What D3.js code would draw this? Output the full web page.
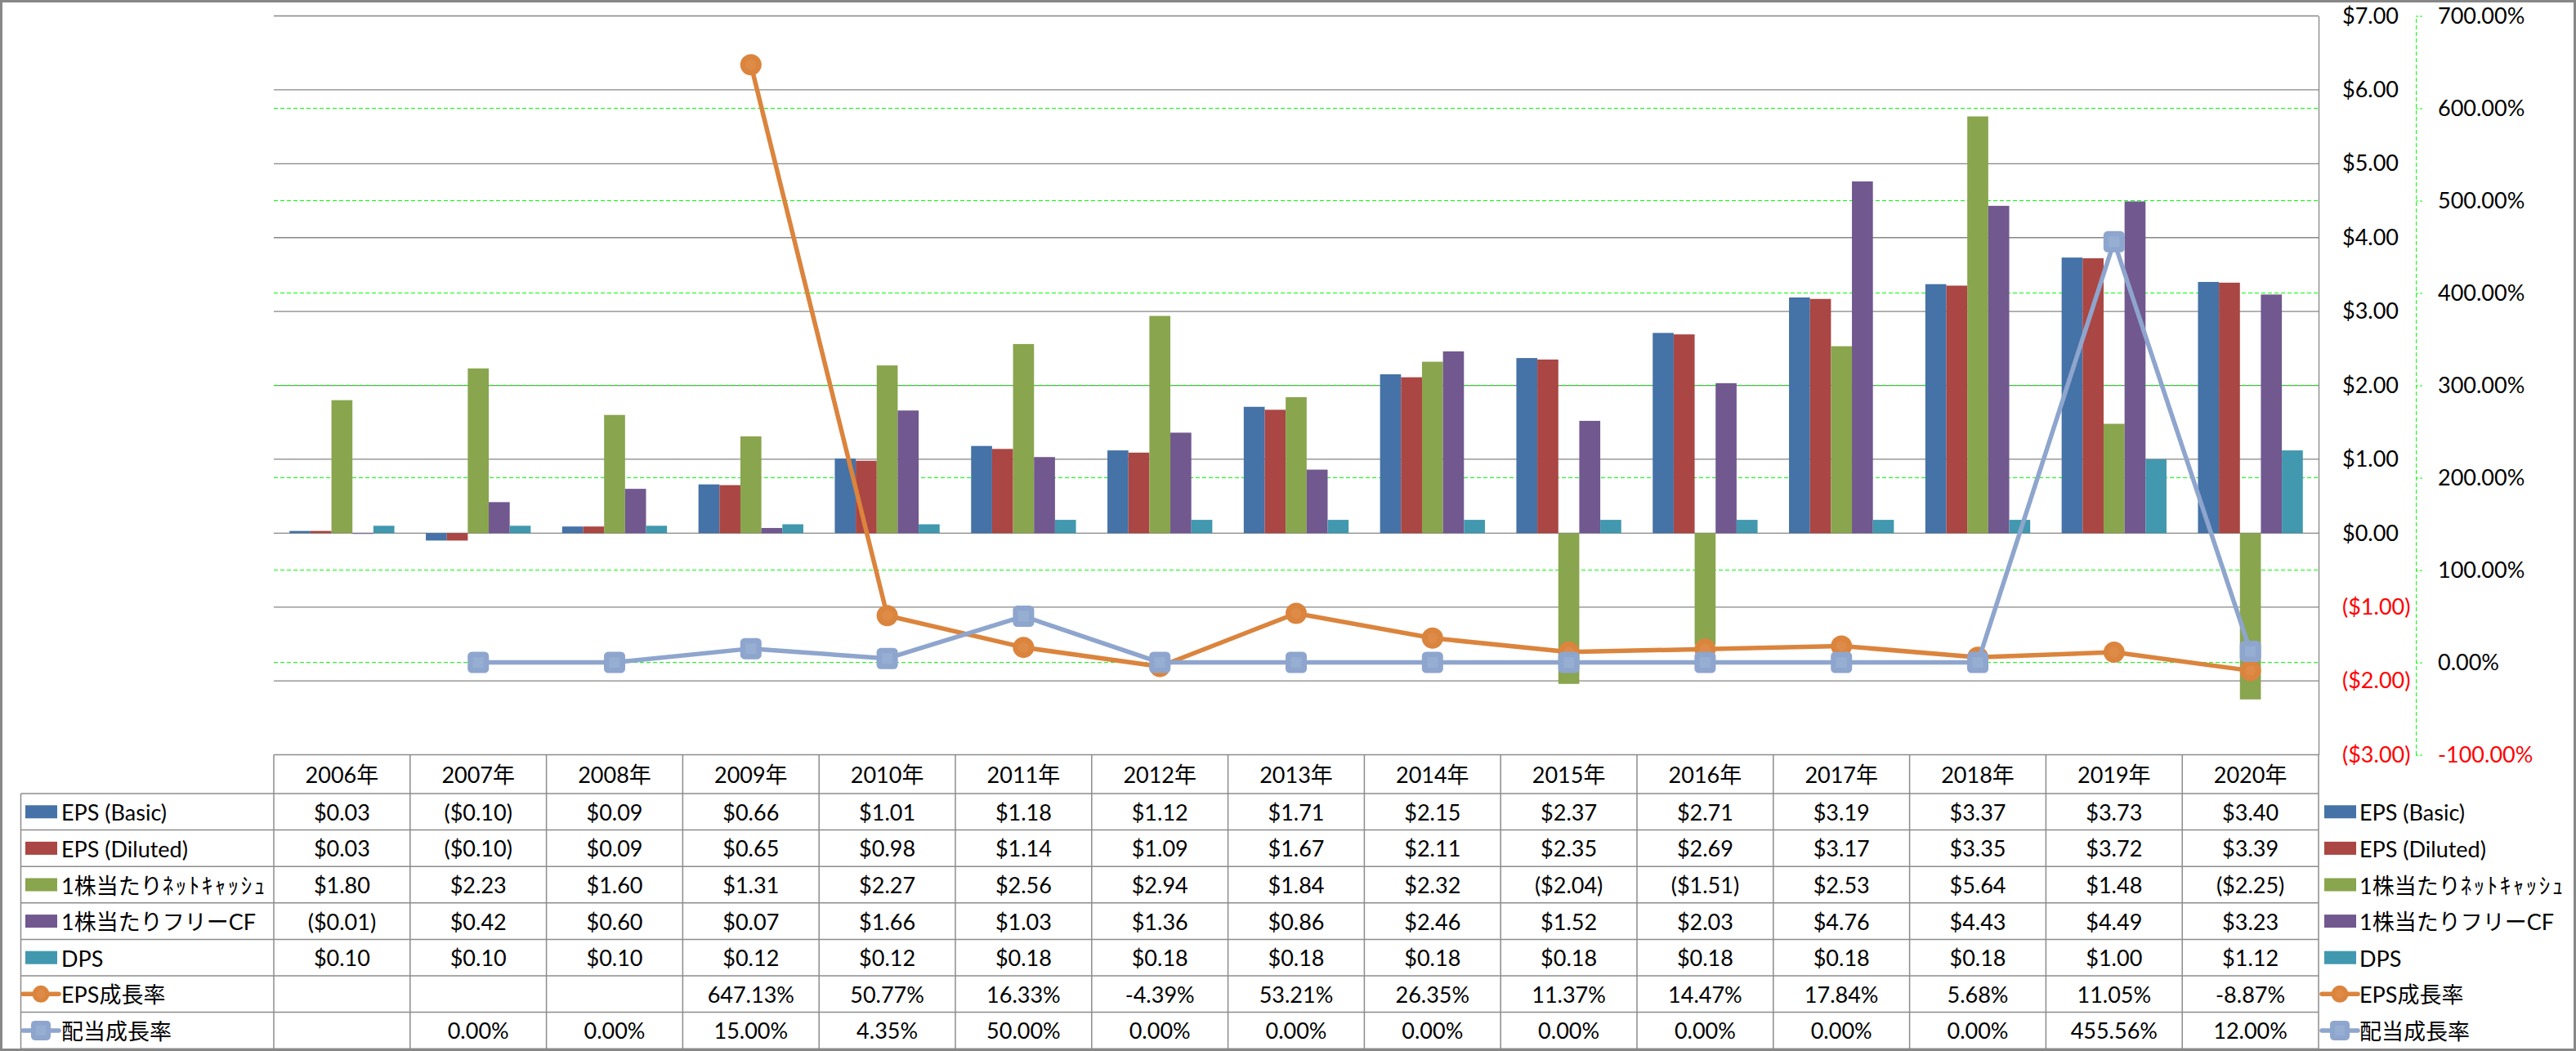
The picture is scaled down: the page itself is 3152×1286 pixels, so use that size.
<!DOCTYPE html>
<html>
<head>
<meta charset="utf-8">
<script src="https://cdn.jsdelivr.net/npm/d3@7"></script>
<style>
  body { margin: 0; background: #fff; }
  text { font-family: Lato, "Noto Sans CJK JP", sans-serif; font-size: 27px; fill: #000; }
</style>
</head>
<body>
<div id="chart"></div>
<script>
'use strict';

// data
const years = ['2006年', '2007年', '2008年', '2009年', '2010年', '2011年', '2012年', '2013年',
               '2014年', '2015年', '2016年', '2017年', '2018年', '2019年', '2020年'];
const epsBasic   = [0.03, -0.10, 0.09, 0.66, 1.01, 1.18, 1.12, 1.71, 2.15, 2.37, 2.71, 3.19, 3.37, 3.73, 3.40];
const epsDiluted = [0.03, -0.10, 0.09, 0.65, 0.98, 1.14, 1.09, 1.67, 2.11, 2.35, 2.69, 3.17, 3.35, 3.72, 3.39];
const netCash    = [1.80, 2.23, 1.60, 1.31, 2.27, 2.56, 2.94, 1.84, 2.32, -2.04, -1.51, 2.53, 5.64, 1.48, -2.25];
const freeCF     = [-0.01, 0.42, 0.60, 0.07, 1.66, 1.03, 1.36, 0.86, 2.46, 1.52, 2.03, 4.76, 4.43, 4.49, 3.23];
const dps        = [0.10, 0.10, 0.10, 0.12, 0.12, 0.18, 0.18, 0.18, 0.18, 0.18, 0.18, 0.18, 0.18, 1.00, 1.12];
const epsGrowth  = [null, null, null, 647.13, 50.77, 16.33, -4.39, 53.21, 26.35, 11.37, 14.47, 17.84, 5.68, 11.05, -8.87];
const divGrowth  = [null, 0.00, 0.00, 15.00, 4.35, 50.00, 0.00, 0.00, 0.00, 0.00, 0.00, 0.00, 0.00, 455.56, 12.00];

const dollarTicks  = [-3, -2, -1, 0, 1, 2, 3, 4, 5, 6, 7];
const percentTicks = [-100, 0, 100, 200, 300, 400, 500, 600, 700];

const barSeries = [
    { name: 'EPS (Basic)', values: epsBasic, color: '#4572A7' },
    { name: 'EPS (Diluted)', values: epsDiluted, color: '#AA4643' },
    { name: '1株当たりﾈｯﾄｷｬｯｼｭ', values: netCash, color: '#89A54E' },
    { name: '1株当たりフリーCF', values: freeCF, color: '#71588F' },
    { name: 'DPS', values: dps, color: '#4198AF' }
];
const lineSeries = [
    { name: 'EPS成長率', values: epsGrowth, color: '#DB843D', inner: '#DE8B47', shape: 'circle' },
    { name: '配当成長率', values: divGrowth, color: '#8EA5CD', inner: '#97AED3', shape: 'square' }
];

const W = 3152, H = 1286;
const plotL = 335, plotR = 2837, plotT = 19.5, plotB = 923.6;
const rowTop = 971, rowH = 44.6;

// plain hyphen for negatives, like the sheet
const locale = d3.formatLocale({ decimal: '.', thousands: ',', grouping: [3], currency: ['$', ''], minus: '-' });
const fmt2 = locale.format('.2f');
function fmtDollar(v) {
    if (v == null) return '';
    return v < 0 ? '($' + fmt2(-v) + ')' : '$' + fmt2(v);
}
function fmtPct(v) {
    if (v == null) return '';
    return fmt2(v) + '%';
}

const svg = d3.select('#chart').append('svg')
    .attr('width', W)
    .attr('height', H);

svg.append('rect')
    .attr('x', 1.5).attr('y', 1.5)
    .attr('width', W - 3).attr('height', H - 3)
    .attr('fill', '#fff')
    .attr('stroke', '#878787')
    .attr('stroke-width', 3);

// scales
const x = d3.scaleBand().domain(years).range([plotL, plotR]);
const bw = x.bandwidth();
const xs = d3.scaleBand()
    .domain(barSeries.map(s => s.name))
    .range([bw * 0.75 / 6.5, bw * 5.75 / 6.5]);
const y = d3.scaleLinear().domain([-3, 7]).range([plotB, plotT]);
const yp = d3.scaleLinear().domain([-100, 700]).range([plotB, plotT]);

// gridlines
svg.append('g').selectAll('line')
    .data(dollarTicks.filter(d => d > -3))
  .enter().append('line')
    .attr('x1', plotL).attr('x2', plotR)
    .attr('y1', d => y(d)).attr('y2', d => y(d))
    .attr('stroke', '#868686')
    .attr('stroke-width', 1.3);

svg.append('g').selectAll('line')
    .data(percentTicks.filter(d => d > -100 && d < 700))
  .enter().append('line')
    .attr('x1', plotL).attr('x2', plotR)
    .attr('y1', d => yp(d)).attr('y2', d => yp(d))
    .attr('stroke', '#00FF00')
    .attr('stroke-width', 1)
    .attr('stroke-dasharray', '5,3');

// bars
barSeries.forEach(function(s) {
    svg.append('g').selectAll('rect')
        .data(s.values)
      .enter().append('rect')
        .attr('x', (d, i) => x(years[i]) + xs(s.name))
        .attr('width', xs.bandwidth())
        .attr('y', d => y(Math.max(0, d)))
        .attr('height', d => Math.abs(y(d) - y(0)))
        .attr('fill', s.color);
});

// dollar axis (right of plot)
const dollarAxis = svg.append('g')
    .attr('transform', 'translate(' + plotR + ',0)')
    .call(d3.axisRight(y).tickValues(dollarTicks).tickFormat(fmtDollar)
        .tickSizeInner(0).tickSizeOuter(0).tickPadding(29));
dollarAxis.select('.domain').attr('stroke', '#868686').attr('stroke-width', 1.3);
dollarAxis.selectAll('text')
    .attr('font-size', null).attr('font-family', null)
    .style('fill', d => d < 0 ? '#FF0000' : '#000');

// percent axis
const pctAxis = svg.append('g')
    .attr('transform', 'translate(2956,0)')
    .call(d3.axisRight(yp).tickValues(percentTicks).tickFormat(d => fmt2(d) + '%')
        .tickSizeInner(9).tickSizeOuter(0).tickPadding(18));
pctAxis.select('.domain').attr('stroke', '#00FF00').attr('stroke-dasharray', '5,3');
pctAxis.selectAll('.tick line').attr('stroke', '#00FF00').attr('stroke-dasharray', '3,2');
pctAxis.selectAll('text')
    .attr('font-size', null).attr('font-family', null)
    .style('fill', d => d < 0 ? '#FF0000' : '#000');

// lines
function drawMarker(g, shape, cx, cy, size, color, inner) {
    if (shape === 'circle') {
        g.append('circle').attr('cx', cx).attr('cy', cy).attr('r', size / 2).attr('fill', color);
        g.append('circle').attr('cx', cx).attr('cy', cy).attr('r', size / 4).attr('fill', inner);
    } else {
        g.append('rect').attr('x', cx - size / 2).attr('y', cy - size / 2)
            .attr('width', size).attr('height', size).attr('rx', size / 5).attr('fill', color);
        g.append('rect').attr('x', cx - size / 4).attr('y', cy - size / 4)
            .attr('width', size / 2).attr('height', size / 2).attr('fill', inner);
    }
}

lineSeries.forEach(function(s) {
    const pts = s.values.map((v, i) => ({ year: years[i], v: v }));
    const line = d3.line()
        .defined(d => d.v != null)
        .x(d => x(d.year) + bw / 2)
        .y(d => yp(d.v));
    const g = svg.append('g');
    g.append('path')
        .datum(pts)
        .attr('d', line)
        .attr('fill', 'none')
        .attr('stroke', s.color)
        .attr('stroke-width', 5.5)
        .attr('stroke-linejoin', 'round');
    pts.filter(d => d.v != null).forEach(function(d) {
        drawMarker(g, s.shape, x(d.year) + bw / 2, yp(d.v), 26, s.color, s.inner);
    });
});

// data table
const table = svg.append('g');
const gridColor = '#8C8C8C';
const allRows = barSeries.map(s => ({ s: s, bar: true, fmt: fmtDollar }))
    .concat(lineSeries.map(s => ({ s: s, bar: false, fmt: fmtPct })));
const tableBottom = rowTop + rowH * allRows.length;

// horizontal lines
table.append('line')
    .attr('x1', plotL).attr('x2', plotR).attr('y1', plotB).attr('y2', plotB)
    .attr('stroke', gridColor).attr('stroke-width', 1.5);
d3.range(allRows.length + 1).forEach(function(i) {
    table.append('line')
        .attr('x1', 25.5).attr('x2', plotR)
        .attr('y1', rowTop + i * rowH).attr('y2', rowTop + i * rowH)
        .attr('stroke', gridColor).attr('stroke-width', 1.5);
});
// vertical lines
table.append('line')
    .attr('x1', 25.5).attr('x2', 25.5).attr('y1', rowTop).attr('y2', tableBottom)
    .attr('stroke', gridColor).attr('stroke-width', 1.5);
years.forEach(function(yr) {
    table.append('line')
        .attr('x1', x(yr)).attr('x2', x(yr)).attr('y1', plotB).attr('y2', tableBottom)
        .attr('stroke', gridColor).attr('stroke-width', 1.5);
});
table.append('line')
    .attr('x1', plotR).attr('x2', plotR).attr('y1', plotB).attr('y2', tableBottom)
    .attr('stroke', gridColor).attr('stroke-width', 1.5);

// header
table.selectAll('.hdr')
    .data(years)
  .enter().append('text')
    .attr('class', 'hdr')
    .attr('x', d => x(d) + bw / 2)
    .attr('y', (plotB + rowTop) / 2)
    .attr('text-anchor', 'middle')
    .attr('dominant-baseline', 'central')
    .text(d => d);

function legendKey(g, r, x0, cy) {
    if (r.bar) {
        g.append('rect').attr('x', x0).attr('y', cy - 8).attr('width', 39).attr('height', 16)
            .attr('fill', r.s.color);
    } else {
        g.append('line').attr('x1', x0 - 3).attr('x2', x0 + 41).attr('y1', cy).attr('y2', cy)
            .attr('stroke', r.s.color).attr('stroke-width', 5.5).attr('stroke-linecap', 'round');
        drawMarker(g, r.s.shape, x0 + 19, cy, r.s.shape === 'circle' ? 21 : 24, r.s.color, r.s.inner);
    }
}

// series name, half-width kana spaced a little wider
function legendLabel(g, name, x0, cy) {
    const t = g.append('text')
        .attr('x', x0).attr('y', cy)
        .attr('dominant-baseline', 'central');
    name.split(/([\uFF61-\uFF9F]+)/).forEach(function(part) {
        if (!part) return;
        const ts = t.append('tspan').text(part);
        if (/[\uFF61-\uFF9F]/.test(part)) ts.attr('letter-spacing', '2.5px');
    });
}

allRows.forEach(function(r, i) {
    const cy = rowTop + i * rowH + rowH / 2;
    legendKey(table, r, 31, cy);
    legendLabel(table, r.s.name, 75, cy);
    table.selectAll('.v' + i)
        .data(r.s.values)
      .enter().append('text')
        .attr('x', (d, j) => x(years[j]) + bw / 2)
        .attr('y', cy)
        .attr('text-anchor', 'middle')
        .attr('dominant-baseline', 'central')
        .text(d => r.fmt(d));
    // legend on the right
    legendKey(table, r, 2844, cy);
    legendLabel(table, r.s.name, 2887, cy);
});
</script>
</body>
</html>
